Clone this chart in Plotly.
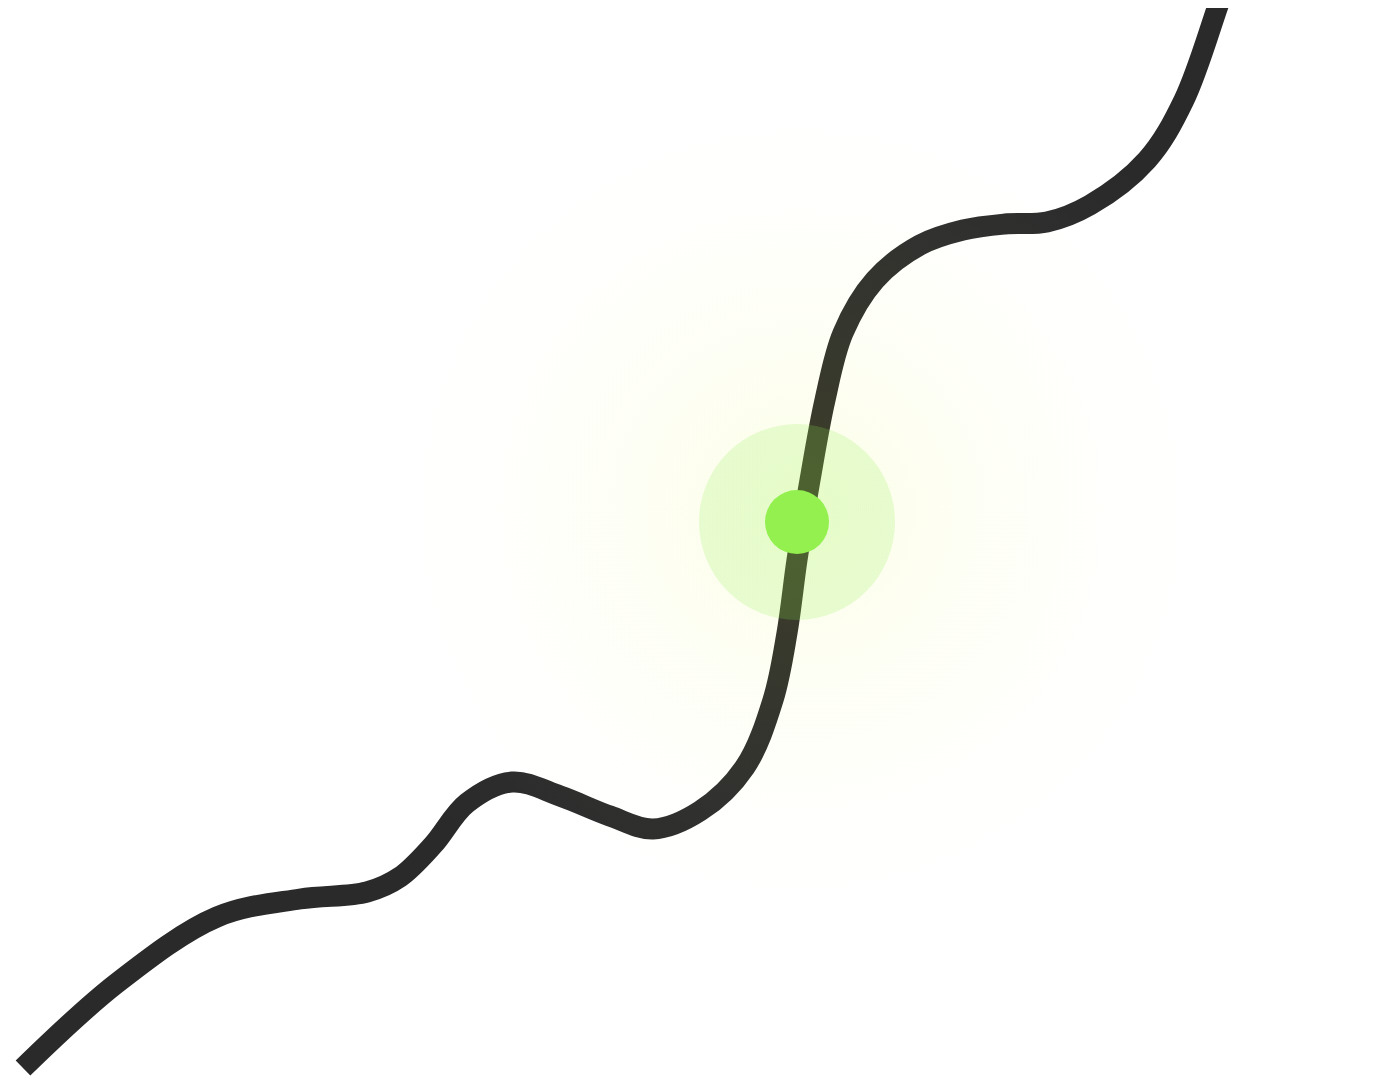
import plotly.graph_objects as go

# path of the tracked series (x, y in chart units, y measured from the bottom)
path_x = [23, 117, 217, 300, 367, 400, 433, 467, 512, 560, 610, 653, 700,
          745, 773, 787, 797, 810, 825, 843, 875, 920, 963, 1005, 1047,
          1090, 1147, 1184, 1220, 1238]
path_y = [21, 106, 172, 190, 197, 212, 244, 286, 307, 293, 273, 260, 278,
          322, 389, 456, 529, 609, 689, 756, 809, 844, 859, 865, 867,
          884, 929, 989, 1089, 1139]

# highlighted point on the path
focus_x = [797]
focus_y = [567]

# glow centre
glow_x = [800]
glow_y = [579]

fig = go.Figure()

fig.add_trace(go.Scatter(x=path_x, y=path_y, mode="lines",
                         line=dict(color="#2a2a2a", width=21, shape="spline",
                                   smoothing=1.0),
                         hoverinfo="skip"))

# soft yellow glow round the focus point (a few stacked radial fades)
for glow_size in [1000, 920, 840]:
    fig.add_trace(go.Scatter(x=glow_x, y=glow_y, mode="markers",
                             marker=dict(size=glow_size,
                                         color="rgba(255,255,255,0)",
                                         line=dict(width=0),
                                         gradient=dict(type="radial",
                                                       color="rgba(225,245,0,0.035)")),
                             hoverinfo="skip"))

# halo and dot
fig.add_trace(go.Scatter(x=focus_x, y=focus_y, mode="markers",
                         marker=dict(size=196, color="rgba(147,240,79,0.2)",
                                     line=dict(width=0)),
                         hoverinfo="skip"))
fig.add_trace(go.Scatter(x=focus_x, y=focus_y, mode="markers",
                         marker=dict(size=64, color="#93f04f",
                                     line=dict(width=0)),
                         hoverinfo="skip"))

# ranges offset by the 8px page margin
fig.update_xaxes(range=[8, 1397], visible=False)
fig.update_yaxes(range=[-8, 1081], visible=False)
fig.update_layout(width=1389, height=1089, showlegend=False,
                  margin=dict(l=0, r=0, t=0, b=0),
                  paper_bgcolor="white", plot_bgcolor="white")

fig.write_html("out.html")
